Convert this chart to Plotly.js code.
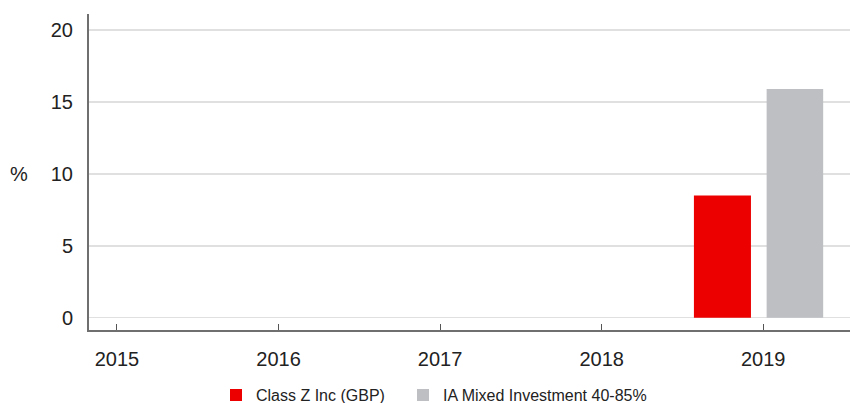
<!DOCTYPE html>
<html>
<head>
<meta charset="utf-8">
<script src="https://cdn.plot.ly/plotly-3.0.1.min.js"></script>
<style>
  html, body { margin: 0; padding: 0; background: #fff; }
  #chart { width: 850px; height: 403px; }
</style>
</head>
<body>
<div id="chart"></div>
<script>
const years = ['2015', '2016', '2017', '2018', '2019'];
const fundName = 'Class Z Inc (GBP)';
const sectorName = 'IA Mixed Investment 40-85%';
const fundValues = [null, null, null, null, 8.5];
const sectorValues = [null, null, null, null, 15.9];
const yTicks = [0, 5, 10, 15, 20];

const traces = [
  {
    type: 'bar', name: fundName, x: years, y: fundValues,
    marker: { color: '#EC0000' }, width: 0.353, offset: -0.429,
    hoverinfo: 'skip', legend: 'legend'
  },
  {
    type: 'bar', name: sectorName, x: years, y: sectorValues,
    marker: { color: '#BEBFC3' }, width: 0.35, offset: 0.021,
    hoverinfo: 'skip', legend: 'legend2'
  }
];

// plot area: left 89, width 761
function px2paperX(px) { return (px - 89) / 761; }

const legendCommon = {
  orientation: 'h', xanchor: 'left', yanchor: 'middle', y: -0.206,
  font: { size: 16, color: '#222222' }, bgcolor: 'rgba(0,0,0,0)', borderwidth: 0
};

const layout = {
  width: 850, height: 403,
  margin: { l: 89, r: 0, t: 14, b: 73, pad: 0, autoexpand: false },
  paper_bgcolor: '#ffffff', plot_bgcolor: '#ffffff',
  font: { family: 'Liberation Sans, Arial, sans-serif', color: '#222222', size: 20 },
  barmode: 'overlay',
  showlegend: true,
  legend: Object.assign({}, legendCommon, { x: px2paperX(216) }),
  legend2: Object.assign({}, legendCommon, { x: px2paperX(403) }),
  xaxis: {
    type: 'category', categoryorder: 'array', categoryarray: years,
    range: [-0.173, 4.537],
    showgrid: false, zeroline: false,
    showline: true, linecolor: '#6f6f6f', linewidth: 2,
    ticks: 'inside', ticklen: 6, tickwidth: 1, tickcolor: '#555555',
    tickfont: { size: 20, color: '#222222' }, ticklabelstandoff: 10
  },
  yaxis: {
    range: [-0.855, 21.11],
    tickvals: yTicks, ticktext: yTicks.map(String),
    showgrid: true, gridcolor: '#e0e0e0', gridwidth: 1.5,
    zeroline: false,
    showline: true, linecolor: '#6f6f6f', linewidth: 2,
    ticks: '', tickfont: { size: 20, color: '#222222' }, ticklabelstandoff: 10
  },
  annotations: [
    { text: '%', xref: 'paper', yref: 'paper', x: 0, y: 0.494, xanchor: 'center', yanchor: 'middle',
      xshift: -70, showarrow: false, font: { size: 20, color: '#222222' } }
  ]
};

Plotly.newPlot('chart', traces, layout, { staticPlot: true, displayModeBar: false });
</script>
</body>
</html>
